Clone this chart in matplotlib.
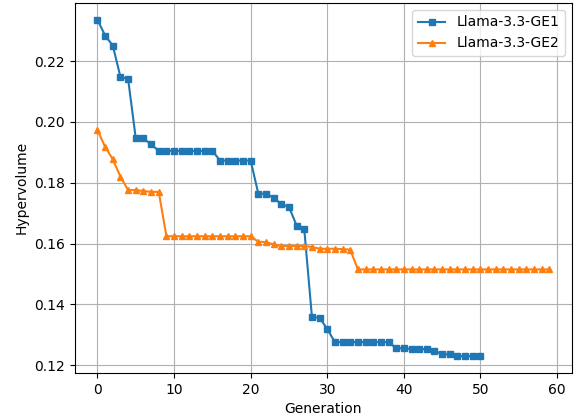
import numpy as np
import matplotlib
matplotlib.use('Agg')
import matplotlib.pyplot as plt

# Hypervolume per generation
ge1_hv = [0.2336, 0.2284, 0.2251, 0.2148, 0.2141, 0.1946, 0.1946, 0.1926, 0.1905, 0.1905,
          0.1905, 0.1905, 0.1905, 0.1905, 0.1905, 0.1905, 0.1873, 0.1873, 0.1873, 0.1873,
          0.1873, 0.1764, 0.1764, 0.1751, 0.1729, 0.1721, 0.1659, 0.1647, 0.1359, 0.1356,
          0.1319, 0.1276, 0.1276, 0.1276, 0.1276, 0.1276, 0.1276, 0.1276, 0.1276, 0.1256,
          0.1256, 0.1253, 0.1253, 0.1253, 0.1248, 0.1236, 0.1236, 0.1230, 0.1230, 0.1230,
          0.1230]
ge2_hv = [0.1973, 0.1918, 0.1877, 0.1820, 0.1776, 0.1776, 0.1773, 0.1770, 0.1770, 0.1624,
          0.1624, 0.1624, 0.1624, 0.1624, 0.1624, 0.1624, 0.1624, 0.1624, 0.1624, 0.1624,
          0.1624, 0.1606, 0.1605, 0.1597, 0.1592, 0.1592, 0.1592, 0.1592, 0.1589, 0.1583,
          0.1583, 0.1583, 0.1582, 0.1580] + [0.1515] * 26

ge1_gen = np.arange(len(ge1_hv))
ge2_gen = np.arange(len(ge2_hv))

fig, ax = plt.subplots(figsize=(5.76, 4.19), dpi=100)
ax.plot(ge1_gen, ge1_hv, marker='s', markersize=5, label='Llama-3.3-GE1')
ax.plot(ge2_gen, ge2_hv, marker='^', markersize=5, label='Llama-3.3-GE2')
ax.set_xlabel('Generation')
ax.set_ylabel('Hypervolume')
ax.grid(True)
ax.legend(loc='upper right')

fig.subplots_adjust(left=0.130, right=0.993, top=0.993, bottom=0.110)
fig.savefig('out.png')
